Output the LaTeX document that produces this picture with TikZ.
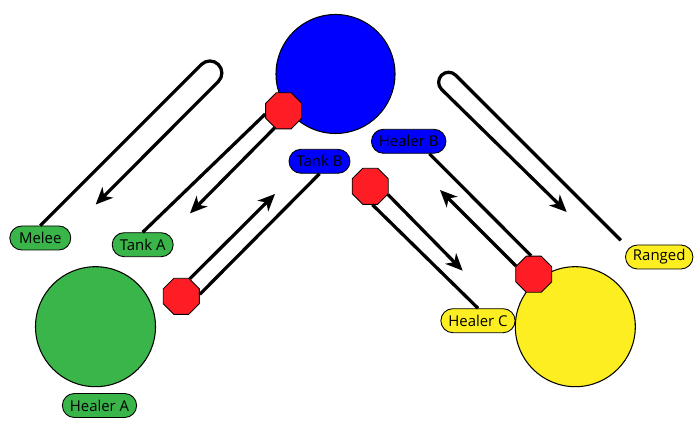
\documentclass[tikz,border=0pt]{standalone}
\usepackage{fontspec}
\setmainfont{Open Sans}
\usepackage{tikz}
\usetikzlibrary{shapes.geometric,arrows.meta}
\usepackage{xcolor}

\definecolor{vert}{RGB}{58,181,74}
\definecolor{bleu}{RGB}{0,0,255}
\definecolor{jaune}{RGB}{252,238,33}
\definecolor{rouge}{RGB}{255,29,37}

\begin{document}
\begin{tikzpicture}[
  rond/.style={draw, circle, inner sep=0pt, minimum size=2.4cm, line width=0.6pt}, % les gros cercles
  etiq/.style={draw, rectangle, rounded corners=0.24cm, minimum height=0.48cm, minimum width=1.22cm,
    inner xsep=0.15cm, inner ysep=0pt, line width=0.5pt, font=\fontsize{8.5}{9}\selectfont}, % les noms
  stopoct/.style={draw, regular polygon, regular polygon sides=8, fill=rouge, inner sep=0pt,
    minimum size=0.78cm, line width=0.5pt}, % les octogones rouges
  trait/.style={line width=1.85pt},
  fl/.style={trait, -{Stealth[length=0.34cm, width=0.3cm, inset=0.1cm]}}
]
\useasboundingbox (0,0) rectangle (14,8.6); % Cadre de l'image

% Les cercles
\node[rond, fill=bleu, minimum size=2.38cm] (bleuRond) at (6.71,7.12) {};
\node[rond, fill=vert] (vertRond) at (1.91,2.066) {};
\node[rond, fill=jaune] (jauneRond) at (11.506,2.066) {};

% Les étiquettes
\node[etiq, fill=vert] (melee) at (0.806,3.84) {Melee};
\node[etiq, fill=vert] (tankA) at (2.854,3.706) {Tank A};
\node[etiq, fill=vert] (healerA) at (1.99,0.49) {Healer A};
\node[etiq, fill=bleu] (tankB) at (6.39,5.374) {Tank B};
\node[etiq, fill=bleu] (healerB) at (8.174,5.774) {Healer B};
\node[etiq, fill=jaune] (healerC) at (9.56,2.186) {Healer C};
\node[etiq, fill=jaune] (ranged) at (13.184,3.46) {Ranged};

% Les octogones
\node[stopoct] (oct1) at (5.674,6.384) {};
\node[stopoct] (oct2) at (3.626,2.674) {};
\node[stopoct] (oct3) at (7.404,4.874) {};
\node[stopoct] (oct4) at (10.674,3.116) {};

% Les pointes des flèches
\coordinate (meleeTip) at (1.914,4.51);
\coordinate (tankATip) at (3.80,4.333);
\coordinate (tankBTip) at (5.50,4.72);
\coordinate (healerCTip) at (9.254,3.186);
\coordinate (healerBTip) at (8.80,4.80);
\coordinate (rangedTip) at (11.334,4.36);

% Les traits simples
\draw[trait] (tankA.north) -- (oct1.190);
\draw[trait] (tankB.south) -- (oct2.6);
\draw[trait] (oct3.277) -- (healerC.north);
\draw[trait] (healerB.329) -- (oct4.98);

% Les flèches
\draw[fl] (oct1.242) -- (tankATip);
\draw[fl] (oct2.64) -- (tankBTip);
\draw[fl] (oct3.335) -- (healerCTip);
\draw[fl] (oct4.155) -- (healerBTip);

% Les boucles
\draw[fl] (melee.north) -- ++(45:4.556) arc[start angle=135, end angle=-45, radius=0.24] -- (meleeTip);
\draw[fl, shorten <=0.12cm] (ranged.north west) -- ++(135:4.79) arc[start angle=45, end angle=225, radius=0.2] -- (rangedTip);
\end{tikzpicture}
\end{document}
